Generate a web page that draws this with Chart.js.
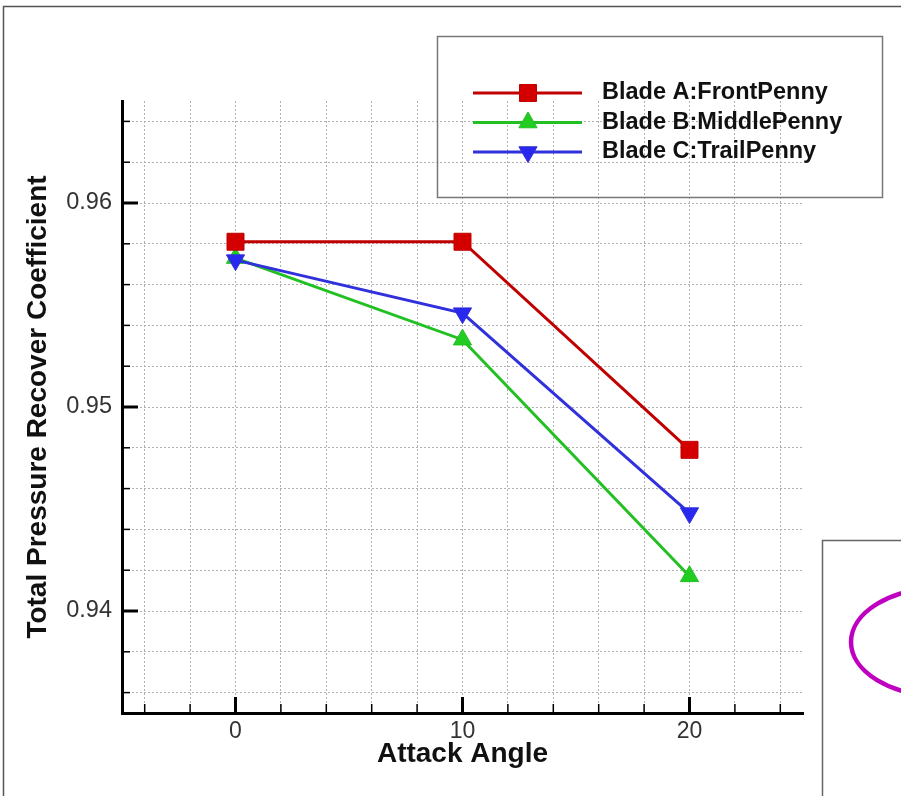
<!DOCTYPE html>
<html>
<head>
<meta charset="utf-8">
<title>Total Pressure Recover Coefficient</title>
<script src="https://cdn.jsdelivr.net/npm/chart.js@4.4.0/dist/chart.umd.min.js"></script>
<style>
  html, body { margin: 0; padding: 0; background: #fff; }
</style>
</head>
<body>
<canvas id="graphCanvas" width="901" height="796"></canvas>
<script>
// values
var attackAngle = [0, 10, 20];
var bladeA = [0.9581, 0.9581, 0.9479];
var bladeB = [0.9573, 0.9533, 0.9417];
var bladeC = [0.9572, 0.9546, 0.9448];
var seriesNames = ['Blade A:FrontPenny', 'Blade B:MiddlePenny', 'Blade C:TrailPenny'];

// grid positions and labelled ticks
var xGrid = [-4, -2, 0, 2, 4, 6, 8, 10, 12, 14, 16, 18, 20, 22, 24];
var xLabels = [0, 10, 20];
var yGrid = [0.936, 0.938, 0.94, 0.942, 0.944, 0.946, 0.948, 0.95,
             0.952, 0.954, 0.956, 0.958, 0.96, 0.962, 0.964];
var yLabels = [0.94, 0.95, 0.96];

var fontFam = "'Liberation Sans', Arial, sans-serif";

function toPoints(ys) {
    var pts = [];
    for (var i in attackAngle) {
        pts.push({ x: attackAngle[i], y: ys[i] });
    }
    return pts;
}

var decorations = {
    id: 'decorations',
    beforeDraw: function (chart) {
        var ctx = chart.ctx;
        ctx.save();
        ctx.fillStyle = '#fff';
        ctx.fillRect(0, 0, chart.width, chart.height);
        ctx.restore();
    },
    afterDraw: function (chart) {
        var ctx = chart.ctx;
        var xs = chart.scales.x, ys = chart.scales.y;
        var area = chart.chartArea;
        ctx.save();

        // inward tick marks
        ctx.strokeStyle = '#000';
        xGrid.forEach(function (v) {
            var major = xLabels.indexOf(v) >= 0;
            var px = xs.getPixelForValue(v);
            ctx.lineWidth = major ? 3 : 1.5;
            ctx.beginPath();
            ctx.moveTo(px, area.bottom);
            ctx.lineTo(px, area.bottom - (major ? 16 : 9));
            ctx.stroke();
        });
        yGrid.forEach(function (v) {
            var major = yLabels.indexOf(v) >= 0;
            var py = ys.getPixelForValue(v);
            ctx.lineWidth = major ? 3 : 1.5;
            ctx.beginPath();
            ctx.moveTo(area.left, py);
            ctx.lineTo(area.left + (major ? 16 : 8), py);
            ctx.stroke();
        });

        // outer frame
        ctx.strokeStyle = '#555';
        ctx.lineWidth = 1.5;
        ctx.beginPath();
        ctx.moveTo(3.5, 796);
        ctx.lineTo(3.5, 6.5);
        ctx.lineTo(901, 6.5);
        ctx.stroke();

        // legend
        ctx.strokeStyle = '#777';
        ctx.lineWidth = 1.5;
        ctx.strokeRect(437.5, 36.5, 445, 161);
        var rowY = [93, 122.5, 152];
        chart.data.datasets.forEach(function (ds, i) {
            var y = rowY[i];
            ctx.strokeStyle = ds.borderColor;
            ctx.lineWidth = 3;
            ctx.beginPath();
            ctx.moveTo(473, y);
            ctx.lineTo(582, y);
            ctx.stroke();
            ctx.fillStyle = ds.pointBackgroundColor;
            ctx.strokeStyle = ds.pointBorderColor;
            ctx.lineWidth = 1;
            Chart.helpers.drawPoint(ctx, {
                pointStyle: ds.pointStyle,
                rotation: ds.pointRotation || 0,
                radius: ds.pointRadius,
                borderWidth: 1
            }, 528, y);
            ctx.fillStyle = '#111';
            ctx.font = 'bold 23.5px ' + fontFam;
            ctx.textAlign = 'left';
            ctx.textBaseline = 'middle';
            ctx.fillText(ds.label, 602, y);
        });

        // second panel peeking in at lower right
        ctx.strokeStyle = '#666';
        ctx.lineWidth = 1.5;
        ctx.beginPath();
        ctx.moveTo(822.5, 796);
        ctx.lineTo(822.5, 540.5);
        ctx.lineTo(901, 540.5);
        ctx.stroke();
        ctx.strokeStyle = '#c000c0';
        ctx.lineWidth = 4.5;
        ctx.beginPath();
        ctx.ellipse(940, 642, 89, 54, 0, 0, Math.PI * 2);
        ctx.stroke();

        ctx.restore();
    }
};

var chartdata = {
    datasets: [{
        label: seriesNames[0],
        data: toPoints(bladeA),
        borderColor: '#c00000',
        borderWidth: 3,
        pointStyle: 'rect',
        pointRadius: 12,
        pointBackgroundColor: '#d40000',
        pointBorderColor: '#c00000',
        pointBorderWidth: 1,
        order: 0
    }, {
        label: seriesNames[1],
        data: toPoints(bladeB),
        borderColor: '#22c022',
        borderWidth: 3,
        pointStyle: 'triangle',
        pointRadius: 10.5,
        pointBackgroundColor: '#22cc22',
        pointBorderColor: '#22c022',
        pointBorderWidth: 1,
        order: 2
    }, {
        label: seriesNames[2],
        data: toPoints(bladeC),
        borderColor: '#3030dd',
        borderWidth: 3,
        pointStyle: 'triangle',
        pointRotation: 180,
        pointRadius: 10.5,
        pointBackgroundColor: '#2828ee',
        pointBorderColor: '#3030dd',
        pointBorderWidth: 1,
        order: 1
    }]
};

var graphTarget = document.getElementById('graphCanvas');

var lineGraph = new Chart(graphTarget, {
    type: 'line',
    data: chartdata,
    plugins: [decorations],
    options: {
        responsive: false,
        animation: false,
        layout: { padding: { left: 0, top: 101, right: 98, bottom: 0 } },
        plugins: {
            legend: { display: false },
            tooltip: { enabled: false }
        },
        scales: {
            x: {
                type: 'linear',
                min: -5,
                max: 25,
                afterBuildTicks: function (s) {
                    s.ticks = xGrid.map(function (v) { return { value: v }; });
                },
                afterFit: function (s) { s.height = 83; },
                ticks: {
                    autoSkip: false,
                    maxRotation: 0,
                    padding: 5,
                    color: '#333',
                    font: { family: fontFam, size: 23 },
                    callback: function (v) {
                        return xLabels.indexOf(v) >= 0 ? String(v) : '';
                    }
                },
                grid: { color: '#b0b0b0', lineWidth: 1, drawTicks: false },
                border: { display: true, color: '#000', width: 3, dash: [2, 2] },
                title: {
                    display: true,
                    text: 'Attack Angle',
                    color: '#111',
                    font: { family: fontFam, size: 28, weight: 'bold' },
                    padding: { top: 0, bottom: 25 }
                }
            },
            y: {
                type: 'linear',
                min: 0.935,
                max: 0.965,
                afterBuildTicks: function (s) {
                    s.ticks = yGrid.map(function (v) { return { value: v }; });
                },
                afterFit: function (s) { s.width = 122; },
                ticks: {
                    autoSkip: false,
                    padding: 10,
                    color: '#333',
                    font: { family: fontFam, size: 23.5 },
                    callback: function (v) {
                        return yLabels.indexOf(v) >= 0 ? v.toFixed(2) : '';
                    }
                },
                grid: { color: '#b0b0b0', lineWidth: 1, drawTicks: false },
                border: { display: true, color: '#000', width: 3, dash: [2, 2] },
                title: {
                    display: true,
                    text: 'Total Pressure Recover Coefficient',
                    color: '#111',
                    font: { family: fontFam, size: 28, weight: 'bold' },
                    padding: { top: 21, bottom: 0 }
                }
            }
        }
    }
});
</script>
</body>
</html>
